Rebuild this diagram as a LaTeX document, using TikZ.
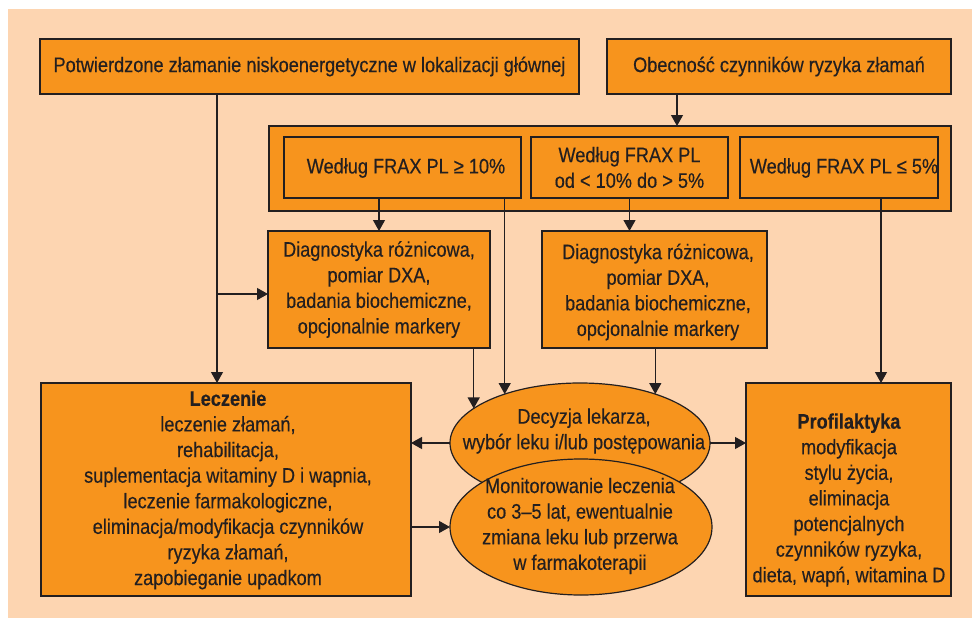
\documentclass[tikz,border=0pt]{standalone}
\usepackage{fontspec}
\setmainfont{Liberation Sans}[FakeStretch=0.865,FakeBold=0.35]
\usetikzlibrary{arrows.meta,shapes.geometric}
\definecolor{peach}{HTML}{FDD5B1}
\definecolor{orng}{HTML}{F7941D}
\definecolor{ink}{HTML}{231F20}
\begin{document}
\begin{tikzpicture}[x=1pt,y=-1pt,
  box/.style={draw=ink,fill=orng,line width=1.2pt,inner sep=0pt,outer sep=0pt,align=center,text=ink,font=\fontsize{21}{25.6}\selectfont},
  txt/.style={inner sep=0pt,align=center,text=ink,font=\fontsize{21}{25.6}\selectfont},
  ell/.style={ellipse,draw=ink,fill=orng,line width=1.2pt,inner sep=0pt,outer sep=0pt},
  arr/.style={draw=ink,line width=1.2pt,-{Triangle[length=11pt,width=12pt]}},
  ln/.style={draw=ink,line width=1.2pt}]
\useasboundingbox (0,0) rectangle (972,618);
\fill[peach] (8,9) rectangle (972,618);

% top boxes
\node[box,minimum width=539pt,minimum height=55pt] (conf) at (309.5,66.5) {Potwierdzone złamanie niskoenergetyczne w lokalizacji głównej};
\node[box,minimum width=344pt,minimum height=55pt] (risk) at (779,66.5) {Obecność czynników ryzyka złamań};

% FRAX group
\node[box,minimum width=682pt,minimum height=85pt] (outer) at (610,168.5) {};
\node[box,minimum width=237pt,minimum height=61pt] (in1) at (402.5,167.5) {};
\node[txt] (in1t) at (406,168) {Według FRAX PL ≥ 10\%};
\node[box,minimum width=197pt,minimum height=61pt] (in2) at (629.5,167.5) {Według FRAX PL\\od < 10\% do > 5\%};
\node[box,minimum width=198pt,minimum height=61pt] (in3) at (839,167.5) {};
\node[txt] (in3t) at (844,168) {Według FRAX PL ≤ 5\%};

% diagnostics
\node[box,minimum width=222pt,minimum height=117pt] (diag1) at (379,289.5) {Diagnostyka różnicowa,\\pomiar DXA,\\badania biochemiczne,\\opcjonalnie markery};
\node[box,minimum width=225pt,minimum height=117pt] (diag2) at (654.5,289.5) {};
\node[txt] (diag2t) at (658,292) {Diagnostyka różnicowa,\\pomiar DXA,\\badania biochemiczne,\\opcjonalnie markery};

% bottom boxes
\node[box,minimum width=370pt,minimum height=213pt] (lecz) at (226,489.5) {};
\node[txt] (lecztxt) at (228,490) {\textbf{Leczenie}\\leczenie złamań,\\rehabilitacja,\\suplementacja witaminy D i wapnia,\\leczenie farmakologiczne,\\eliminacja/modyfikacja czynników\\ryzyka złamań,\\zapobieganie upadkom};
\node[box,minimum width=205pt,minimum height=213pt] (prof) at (848.5,489.5) {};
\node[txt] (proftxt) at (849,500) {\textbf{Profilaktyka}\\modyfikacja\\stylu życia,\\eliminacja\\potencjalnych\\czynników ryzyka,\\dieta, wapń, witamina D};

% ellipses
\node[ell,minimum width=260pt,minimum height=120pt] (dec) at (580,443) {};
\node[txt] (dect) at (584,431) {Decyzja lekarza,\\wybór leku i/lub postępowania};
\node[ell,minimum width=262pt,minimum height=136pt] (mon) at (581,527) {};
\node[txt] (mont) at (580,526) {Monitorowanie leczenia\\co 3--5 lat, ewentualnie\\zmiana leku lub przerwa\\w farmakoterapii};

% helper coordinates
\coordinate (cL) at (217,0);
\coordinate (br) at (217,294);
\coordinate (cR) at (677,0);
\coordinate (cP) at (881,0);
\coordinate (tA) at (dec.162.8);
\coordinate (tB) at (dec.147.35);
\coordinate (tC) at (dec.33.67);

% connectors
\draw[arr] (conf.south -| cL) -- (lecz.north -| cL);
\draw[arr] (br) -- (diag1.west |- br);
\draw[arr] (risk.south -| cR) -- (outer.north -| cR);
\draw[arr] (in1.south -| diag1.north) -- (diag1.north);
\draw[arr] (in2.south) -- (in2.south |- diag2.north);
\draw[arr] (in3.south -| cP) -- (prof.north -| cP);
\draw[arr] (in1.south -| tB) -- (tB);
\draw[arr] (diag1.south -| tA) -- (tA);
\draw[arr] (diag2.south -| tC) -- (tC);
\draw[arr] (dec.west) -- (lecz.east |- dec.west);
\draw[arr] (dec.east) -- (prof.west |- dec.east);
\draw[arr] (lecz.east |- mon.west) -- (mon.west);
\end{tikzpicture}
\end{document}
